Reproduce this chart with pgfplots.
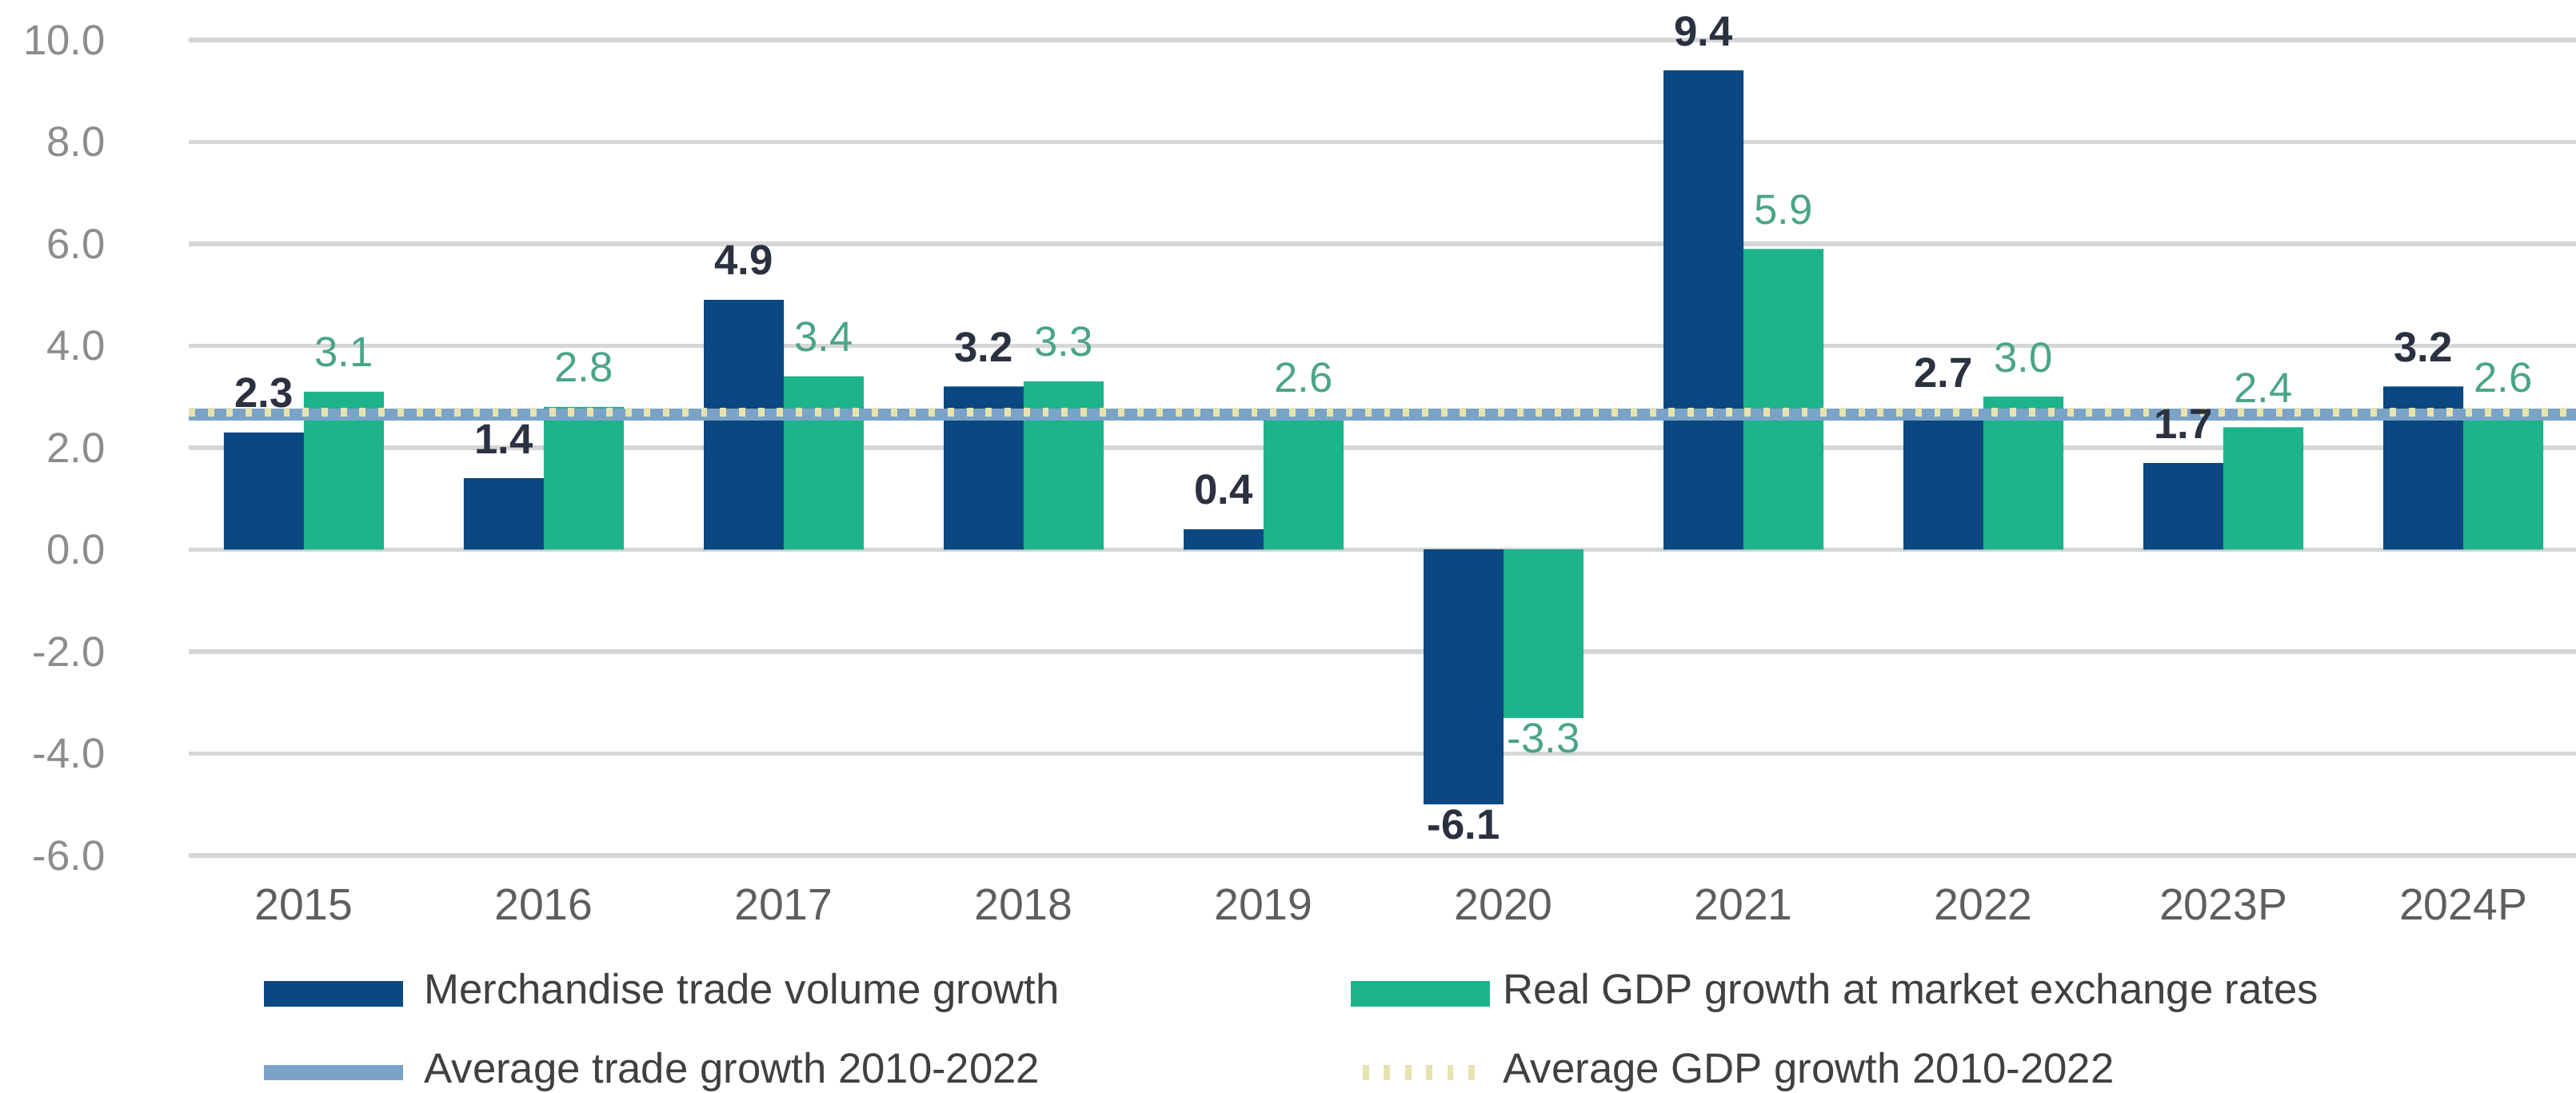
\documentclass[border=0pt]{standalone}
\usepackage{fontspec}
\setmainfont{Liberation Sans}
\usepackage{pgfplots}
\usepackage{pgfplotstable}
\pgfplotsset{compat=1.18}
\definecolor{navybar}{HTML}{0B4780}
\definecolor{greenbar}{HTML}{1DB38B}
\definecolor{avgblue}{HTML}{7BA3C8}
\definecolor{avgdot}{HTML}{E6E3B0}
\definecolor{gridc}{HTML}{D6D6D6}
\definecolor{ylab}{HTML}{8C8C8C}
\definecolor{xlab}{HTML}{5E5E5E}
\definecolor{navylab}{HTML}{2A3140}
\definecolor{greenlab}{HTML}{4AA585}
\definecolor{legtext}{HTML}{404040}

% merchandise trade volume growth (positive years)
\pgfplotstableread{
x y lab
0 2.3 2.3
1 1.4 1.4
2 4.9 4.9
3 3.2 3.2
4 0.4 0.4
6 9.4 9.4
7 2.7 2.7
8 1.7 1.7
9 3.2 3.2
}\trade
% 2020 (bar drawn as in the reference, label as printed)
\pgfplotstableread{
x y lab
5 -5.0 -6.1
}\tradeneg
% real GDP growth (positive years)
\pgfplotstableread{
x y lab
0 3.1 3.1
1 2.8 2.8
2 3.4 3.4
3 3.3 3.3
4 2.6 2.6
6 5.9 5.9
7 3.0 3.0
8 2.4 2.4
9 2.6 2.6
}\gdp
\pgfplotstableread{
x y lab
5 -3.3 -3.3
}\gdpneg

\pgfplotsset{
  navybars/.style={ybar, bar width=0.667cm, bar shift=-0.333cm, fill=navybar, draw=none,
   point meta=explicit symbolic, nodes near coords,
   every node near coord/.append style={font=\bfseries\fontsize{10}{12}\selectfont, text=navylab, xshift=-0.333cm, yshift=0.08cm}},
  greenbars/.style={ybar, bar width=0.667cm, bar shift=0.333cm, fill=greenbar, draw=none,
   point meta=explicit symbolic, nodes near coords,
   every node near coord/.append style={font=\fontsize{10}{12}\selectfont, text=greenlab, xshift=0.333cm, yshift=0.08cm}},
}

\begin{document}
\begin{tikzpicture}
\useasboundingbox (-1.573cm,-1.98cm) rectangle (19.9cm,7.133cm);
\begin{axis}[
  at={(0,0)}, anchor=south west,
  scale only axis, width=19.9cm, height=6.8cm,
  xmin=-0.48, xmax=9.47, ymin=-6, ymax=10,
  clip=false,
  axis line style={draw=none},
  major tick length=0pt,
  ytick={-6,-4,...,10},
  ymajorgrids,
  grid style={gridc, line width=1pt},
  xtick={0,...,9},
  xticklabels={2015,2016,2017,2018,2019,2020,2021,2022,2023P,2024P},
  /pgf/number format/assume math mode=true,
  yticklabel style={font=\fontsize{10}{12}\selectfont, text=ylab, xshift=-0.57cm,
     /pgf/number format/fixed, /pgf/number format/fixed zerofill, /pgf/number format/precision=1},
  xticklabel style={font=\fontsize{10.5}{12}\selectfont, text=xlab, yshift=-0.157cm},
  legend columns=2,
  legend cell align=left,
  legend style={at={(axis description cs:0,0)}, anchor=north west,
     xshift=0.567cm, yshift=-0.978cm, draw=none, fill=none,
     inner sep=0pt, outer sep=0pt, row sep=0.31cm,
     font=\fontsize{10}{12}\selectfont, text=legtext,
     nodes={inner sep=0pt, text height=0.26cm, text depth=0.09cm},
     /tikz/every odd column/.append style={column sep=0.11cm},
     /tikz/every even column/.append style={column sep=2.43cm}},
]
\addplot[navybars,
   legend image code/.code={\fill[navybar] (0cm,-0.105cm) rectangle (1.16cm,0.105cm);}]
   table[x=x, y=y, meta=lab] {\trade};
\addlegendentry{Merchandise trade volume growth}
\addplot[greenbars,
   legend image code/.code={\fill[greenbar] (0cm,-0.105cm) rectangle (1.16cm,0.105cm);}]
   table[x=x, y=y, meta=lab] {\gdp};
\addlegendentry{Real GDP growth at market exchange rates}
\addplot[sharp plot, no marks, avgblue, line width=3pt,
   legend image code/.code={\draw[avgblue, line width=3.6pt] (0cm,0cm) -- (1.16cm,0cm);}]
   coordinates {(-0.48,2.65) (9.47,2.65)};
\addlegendentry{Average trade growth 2010-2022}
\addplot[sharp plot, no marks, avgdot, line width=2pt, dash pattern=on 1.5pt off 3pt,
   legend image code/.code={\draw[avgdot, line width=3.6pt, dash pattern=on 1.5pt off 3.5pt] (0.1cm,0cm) -- (1.06cm,0cm);}]
   coordinates {(-0.48,2.7) (9.47,2.7)};
\addlegendentry{Average GDP growth 2010-2022}
\addplot[navybars, forget plot, every node near coord/.append style={anchor=north}]
   table[x=x, y=y, meta=lab] {\tradeneg};
\addplot[greenbars, forget plot, every node near coord/.append style={anchor=north}]
   table[x=x, y=y, meta=lab] {\gdpneg};
\end{axis}
\end{tikzpicture}
\end{document}
